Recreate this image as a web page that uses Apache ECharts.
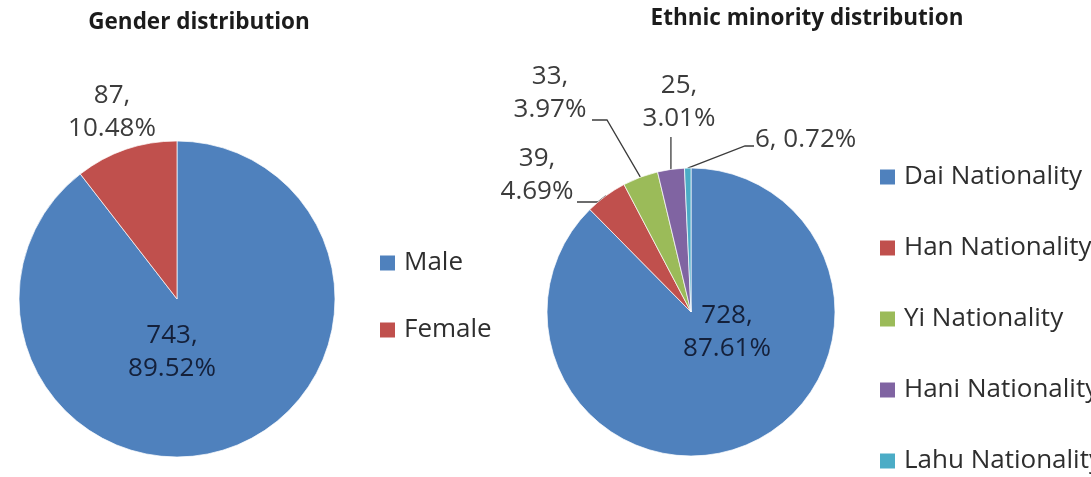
<!DOCTYPE html>
<html>
<head>
<meta charset="utf-8">
<title>Gender and ethnic minority distribution</title>
<script src="https://cdn.jsdelivr.net/npm/echarts@6/dist/echarts.min.js"></script>
<style>
  html, body { margin: 0; padding: 0; background: #ffffff; }
  #chart { width: 1091px; height: 477px; }
</style>
</head>
<body>
<div id="chart"></div>
<script>
// ---- data ----
const genderNames = ['Male', 'Female'];
const genderCounts = [743, 87];

const ethnicNames = ['Dai Nationality', 'Han Nationality', 'Yi Nationality', 'Hani Nationality', 'Lahu Nationality'];
const ethnicCounts = [728, 39, 33, 25, 6];

const titles = ['Gender distribution', 'Ethnic minority distribution'];

// ---- styling / layout ----
const palette = ['#4F81BD', '#C0504D', '#9BBB59', '#8064A2', '#4BACC6'];
const FONT = '"Open Sans", "Noto Sans", sans-serif';
const OUT_COLOR = '#3c3c3c';
const IN_COLOR = '#14203a';

const pies = [
  { center: [177, 299], radius: 158 },
  { center: [691, 312], radius: 144 }
];

// Label anchors relative to each pie centre, plus leader-line routing
// (offsets relative to the label anchor).
const labelPlacement = [
  [
    { dx: -5, dy: 53 },                                   // Male (inside)
    { dx: -65, dy: -187 }                                 // Female
  ],
  [
    { dx: 36, dy: 20 },                                   // Dai (inside)
    { dx: -154, dy: -137, line: [[61, 27], [40, 27]] },   // Han
    { dx: -141, dy: -219, line: [[57, 27], [42, 27]] },   // Yi
    { dx: -12, dy: -210, vertical: 35 },                  // Hani
    { dx: 64, dy: -172, align: 'left', line: [[-10, 6], [-1, 6]] } // Lahu
  ]
];

function placeLabel(params) {
  const spec = labelPlacement[params.seriesIndex][params.dataIndex];
  const c = pies[params.seriesIndex].center;
  const x = c[0] + spec.dx;
  const y = c[1] + spec.dy;
  const out = { x: x, y: y, align: spec.align || 'center', verticalAlign: 'middle' };
  const pts = params.labelLinePoints;
  if (pts && pts.length) {
    const edge = pts[0];
    if (spec.line) {
      out.labelLinePoints = [edge].concat(spec.line.map(p => [x + p[0], y + p[1]]));
    } else if (spec.vertical) {
      out.labelLinePoints = [edge, [edge[0], (edge[1] + y + spec.vertical) / 2], [edge[0], y + spec.vertical]];
    }
  }
  return out;
}

const labelText = {
  fontFamily: FONT,
  fontSize: 26,
  lineHeight: 33,
  color: OUT_COLOR,
  formatter: '{c},\n{d}%'
};

function buildItems(names, counts, cfg) {
  return names.map((n, i) => {
    const item = {
      name: n,
      value: counts[i],
      itemStyle: { color: palette[i % palette.length] }
    };
    const c = cfg[i] || {};
    item.label = Object.assign({ position: c.inside ? 'inside' : 'outside' },
      c.inside ? { color: IN_COLOR } : {}, c.formatter ? { formatter: c.formatter } : {});
    item.labelLine = { show: !!c.line };
    return item;
  });
}

const genderData = buildItems(genderNames, genderCounts, [
  { inside: true },
  {}
]);
const ethnicData = buildItems(ethnicNames, ethnicCounts, [
  { inside: true },
  { line: true },
  { line: true },
  { line: true },
  { line: true, formatter: '{c}, {d}%' }
]);

const pieBase = {
  type: 'pie',
  startAngle: 90,
  clockwise: true,
  avoidLabelOverlap: false,
  animation: false,
  silent: true,
  percentPrecision: 2,
  itemStyle: { borderColor: 'rgba(255,255,255,0.7)', borderWidth: 1 },
  label: Object.assign({ show: true }, labelText),
  labelLine: { lineStyle: { color: OUT_COLOR, width: 1.3 }, smooth: false },
  labelLayout: placeLabel,
  emphasis: { disabled: true }
};

const legendText = { fontFamily: FONT, fontSize: 26, lineHeight: 30, color: '#2e2e2e', padding: [0, 0, 0, 4] };

const titleStyle = { fontFamily: FONT, fontWeight: 'bold', fontSize: 22.5, fill: '#1c1c1c', align: 'center', verticalAlign: 'middle' };

const option = {
  backgroundColor: '#ffffff',
  animation: false,
  graphic: [
    { type: 'text', x: 199, y: 23, style: Object.assign({ text: titles[0] }, titleStyle) },
    { type: 'text', x: 807, y: 19, style: Object.assign({ text: titles[1] }, titleStyle) }
  ],
  legend: [
    {
      data: genderNames, orient: 'vertical', left: 380, top: 248, height: 150, padding: 0,
      icon: 'rect', itemWidth: 15, itemHeight: 15, itemGap: 37,
      itemStyle: { borderWidth: 0 }, textStyle: legendText, selectedMode: false
    },
    {
      data: ethnicNames, orient: 'vertical', left: 880, top: 162, height: 340, padding: 0,
      icon: 'rect', itemWidth: 15, itemHeight: 15, itemGap: 41,
      itemStyle: { borderWidth: 0 }, textStyle: legendText, selectedMode: false
    }
  ],
  series: [
    Object.assign({}, pieBase, { name: 'Gender', center: pies[0].center, radius: pies[0].radius, data: genderData }),
    Object.assign({}, pieBase, { name: 'Ethnicity', center: pies[1].center, radius: pies[1].radius, data: ethnicData })
  ]
};

const chart = echarts.init(document.getElementById('chart'), null, { renderer: 'canvas' });
chart.setOption(option);
</script>
</body>
</html>
